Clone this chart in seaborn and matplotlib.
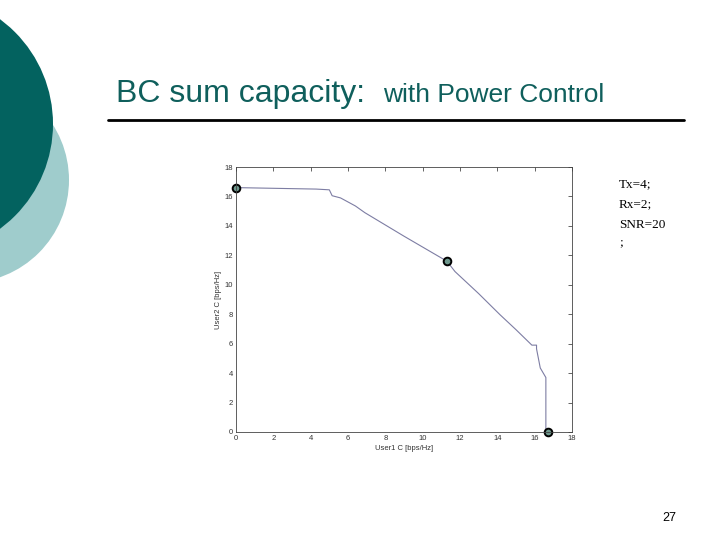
import matplotlib
matplotlib.use("Agg")
import matplotlib.pyplot as plt
from matplotlib.patches import Circle
import pandas as pd
import seaborn as sns

# =========================
# DATA
# =========================
user1_c = [0.0, 4.3, 5.0, 5.15, 5.6, 6.4, 6.9, 9.0, 11.3, 11.73, 13.0, 14.14, 15.0,
           15.85, 16.1, 16.1, 16.3, 16.6, 16.6]
user2_c = [16.6, 16.5, 16.45, 16.05, 15.9, 15.35, 14.9, 13.3, 11.6, 10.9, 9.4, 7.97, 6.95,
           5.9, 5.9, 5.65, 4.35, 3.7, 0.0]

marker_x = [0.0, 11.3, 16.7]
marker_y = [16.6, 11.6, 0.0]

axis_ticks = [0, 2, 4, 6, 8, 10, 12, 14, 16, 18]
params = ["Tx=4;", "Rx=2;", "SNR=20", ";"]
page_no = "27"

curve = pd.DataFrame({"user1": user1_c, "user2": user2_c})
points = pd.DataFrame({"user1": marker_x, "user2": marker_y})

# =========================
# FIGURE / SLIDE DECORATION
# =========================
sns.set_style("white")
plt.rcParams["font.family"] = ["Liberation Sans", "DejaVu Sans"]

W, H = 720, 540
fig = plt.figure(figsize=(7.2, 5.4), dpi=100)

bg = fig.add_axes([0, 0, 1, 1], zorder=0)
bg.set_xlim(0, W)
bg.set_ylim(H, 0)
bg.axis("off")
bg.add_patch(Circle((-34, 180), 103, color="#9fcccc", lw=0))
bg.add_patch(Circle((-77, 124), 130, color="#03625f", lw=0))
bg.plot([108, 684], [120, 120], color="black", lw=2)

def px(x, y):
    return x / W, 1 - y / H

fig.text(*px(116, 102), "BC sum capacity:", fontsize=23, color="#0f5f5c", va="baseline")
fig.text(*px(383, 102), "with Power Control", fontsize=19, color="#0f5f5c", va="baseline")

for txt, base in zip(params, [187, 207.5, 228, 245]):
    fig.text(*px(619, base), txt, fontsize=9.5, family=["Liberation Serif", "DejaVu Serif"],
             color="black", va="baseline")

fig.text(*px(662, 521), page_no, fontsize=9, color="black", va="baseline")

# =========================
# CAPACITY REGION PLOT
# =========================
ax = fig.add_axes([236 / W, 1 - 432 / H, 336 / W, 265 / H], zorder=1)
sns.lineplot(data=curve, x="user1", y="user2", sort=False, estimator=None,
             color="#7d7da3", lw=0.8, ax=ax)
ax.plot(points["user1"], points["user2"], "o", ms=5.5, mfc="#6d978c", mec="black", mew=1.4,
        clip_on=False)

ax.set_xlim(0, 18)
ax.set_ylim(0, 18)
ax.set_xticks(axis_ticks)
ax.set_yticks(axis_ticks)
ax.tick_params(direction="in", length=3, width=0.5, labelsize=5.5, labelcolor="#333333",
               top=True, right=True, pad=2)
for s in ax.spines.values():
    s.set_linewidth(0.6)
    s.set_color("#444444")
ax.set_xlabel("User1 C [bps/Hz]", fontsize=5.5, color="#333333", labelpad=2)
ax.set_ylabel("User2 C [bps/Hz]", fontsize=5.5, color="#333333", labelpad=2)

fig.savefig("out.png", dpi=100)
